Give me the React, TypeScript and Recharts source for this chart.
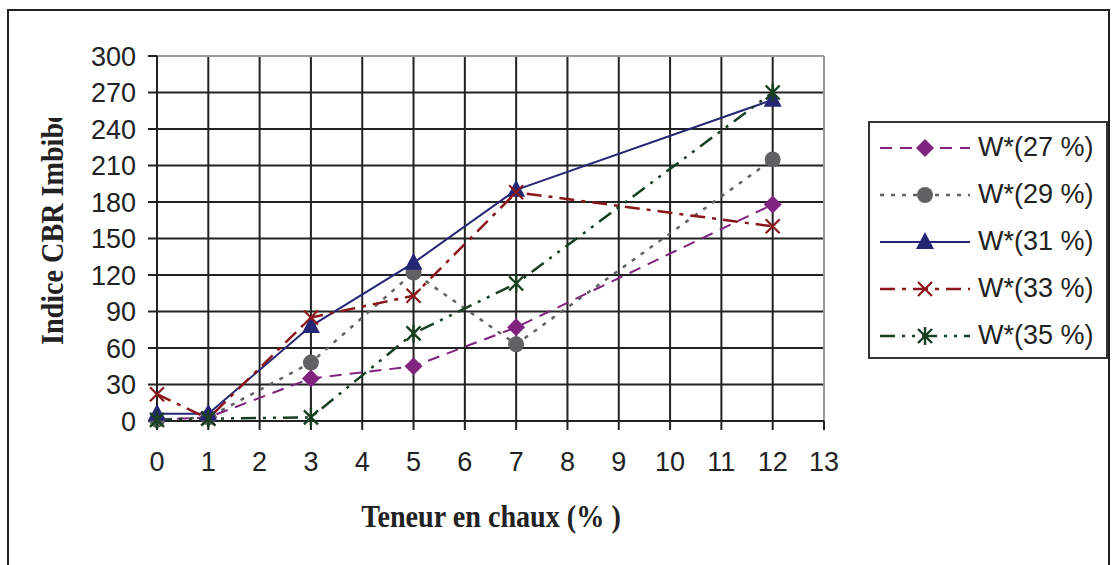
import React from "react";
import {
  LineChart,
  Line,
  XAxis,
  YAxis,
  CartesianGrid,
  ReferenceLine,
  Label,
} from "recharts";

// lime content (%) and CBR index per moisture series
const teneur = [0, 1, 3, 5, 7, 12];
const w27 = [1, 3, 35, 45, 77, 178];
const w29 = [1, 3, 48, 122, 63, 215];
const w31 = [6, 6, 78, 130, 190, 264];
const w33 = [22, 2, 85, 103, 188, 160];
const w35 = [1, 2, 3, 72, 113, 270];
const xTicks = [0, 1, 2, 3, 4, 5, 6, 7, 8, 9, 10, 11, 12, 13];
const yTicks = [0, 30, 60, 90, 120, 150, 180, 210, 240, 270, 300];

const data = teneur.map((x, i) => ({
  x,
  w27: w27[i],
  w29: w29[i],
  w31: w31[i],
  w33: w33[i],
  w35: w35[i],
}));

const PURPLE = "#80247f";
const GRAY = "#606163";
const NAVY = "#262676";
const RED = "#8a1719";
const GREEN = "#173f22";

type Marker = (cx: number, cy: number) => React.ReactNode;

const diamond: Marker = (cx, cy) => (
  <path d={`M${cx} ${cy - 9}L${cx + 9} ${cy}L${cx} ${cy + 9}L${cx - 9} ${cy}Z`} fill={PURPLE} />
);
const circle: Marker = (cx, cy) => <circle cx={cx} cy={cy} r={8} fill={GRAY} />;
const triangle: Marker = (cx, cy) => (
  <path d={`M${cx} ${cy - 10}L${cx + 9} ${cy + 7}L${cx - 9} ${cy + 7}Z`} fill={NAVY} />
);
const cross: Marker = (cx, cy) => (
  <path d={`M${cx - 7} ${cy - 7}L${cx + 7} ${cy + 7}M${cx + 7} ${cy - 7}L${cx - 7} ${cy + 7}`} stroke={RED} strokeWidth={2.2} />
);
const star: Marker = (cx, cy) => (
  <path
    d={`M${cx - 7} ${cy - 7}L${cx + 7} ${cy + 7}M${cx + 7} ${cy - 7}L${cx - 7} ${cy + 7}M${cx} ${cy - 9}L${cx} ${cy + 9}`}
    stroke={GREEN}
    strokeWidth={2.4}
  />
);

const series = [
  { key: "w27", label: "W*(27 %)", color: PURPLE, dash: "12 8", width: 2, marker: diamond },
  { key: "w29", label: "W*(29 %)", color: GRAY, dash: "4 7", width: 2.5, marker: circle },
  { key: "w31", label: "W*(31 %)", color: NAVY, dash: undefined, width: 2, marker: triangle },
  { key: "w33", label: "W*(33 %)", color: RED, dash: "15 7 4 7", width: 2.5, marker: cross },
  { key: "w35", label: "W*(35 %)", color: GREEN, dash: "15 7 3 7 3 7", width: 2.5, marker: star },
];

const tickFont = { fontSize: 27, fill: "#222", fontFamily: "Liberation Sans, Arial, sans-serif" };
const titleFont = {
  fontFamily: "Liberation Serif, Times New Roman, serif",
  fontWeight: "bold" as const,
  fontSize: 32,
  fill: "#222",
};

function LegendBox() {
  return (
    <div
      style={{
        position: "absolute",
        left: 868,
        top: 121,
        width: 240,
        height: 238,
        border: "2px solid #333",
        background: "#fff",
        boxSizing: "border-box",
        paddingTop: 1,
      }}
    >
      {series.map((s) => (
        <div key={s.key} style={{ display: "flex", alignItems: "center", height: 47 }}>
          <svg width={108} height={30} style={{ flex: "none" }}>
            <line x1={10} y1={15} x2={100} y2={15} stroke={s.color} strokeWidth={s.width} strokeDasharray={s.dash} />
            {s.marker(55, 15)}
          </svg>
          <span style={{ fontFamily: "Liberation Sans, Arial, sans-serif", fontSize: 27, color: "#222", whiteSpace: "nowrap" }}>
            {s.label}
          </span>
        </div>
      ))}
    </div>
  );
}

// rotated title, cut off at the top like the original frame
function YTitle() {
  return (
    <g>
      <defs>
        <clipPath id="ytitle-clip">
          <rect x={20} y={118} width={60} height={260} />
        </clipPath>
      </defs>
      <g clipPath="url(#ytitle-clip)">
        <text transform="translate(63, 345) rotate(-90) scale(0.88, 1)" textAnchor="start" {...titleFont}>
          Indice CBR Imbibé
        </text>
      </g>
    </g>
  );
}

function XTitle() {
  return (
    <text transform="translate(491, 527) scale(0.88, 1)" textAnchor="middle" {...titleFont}>
      Teneur en chaux (% )
    </text>
  );
}

export default function App() {
  return (
    <div style={{ position: "absolute", left: 0, top: 0, width: 1117, height: 565, background: "#fff", overflow: "hidden" }}>
      <div
        style={{
          position: "absolute",
          left: 7,
          top: 9,
          width: 1103,
          height: 600,
          border: "2px solid #222",
          boxSizing: "border-box",
        }}
      />
      <div style={{ position: "absolute", left: 0, top: 0 }}>
        <LineChart width={1117} height={565} data={data} margin={{ top: 56, right: 293, bottom: 84, left: 0 }}>
          <CartesianGrid stroke="#222" strokeWidth={2} horizontalValues={yTicks} verticalValues={xTicks} />
          <ReferenceLine y={300} stroke="#9a9a9a" strokeWidth={2} />
          <ReferenceLine x={13} stroke="#9a9a9a" strokeWidth={2} />
          <XAxis
            type="number"
            dataKey="x"
            domain={[0, 13]}
            ticks={xTicks}
            interval={0}
            height={60}
            tick={tickFont}
            tickSize={9}
            tickMargin={22}
            axisLine={{ stroke: "#222", strokeWidth: 2 }}
            tickLine={{ stroke: "#222", strokeWidth: 2 }}
          >
            <Label value="Teneur en chaux (% )" content={() => <XTitle />} />
          </XAxis>
          <YAxis
            type="number"
            domain={[0, 300]}
            ticks={yTicks}
            interval={0}
            width={157}
            tick={tickFont}
            tickSize={9}
            tickMargin={12}
            axisLine={{ stroke: "#222", strokeWidth: 2 }}
            tickLine={{ stroke: "#222", strokeWidth: 2 }}
          >
            <Label value="Indice CBR Imbibé" content={() => <YTitle />} />
          </YAxis>
          {series.map((s) => (
            <Line
              key={s.key}
              type="linear"
              dataKey={s.key}
              name={s.label}
              stroke={s.color}
              strokeWidth={s.width}
              strokeDasharray={s.dash}
              isAnimationActive={false}
              dot={(p: any) => <g key={`${s.key}-${p.index}`}>{s.marker(p.cx, p.cy)}</g>}
              activeDot={false}
            />
          ))}
        </LineChart>
      </div>
      <LegendBox />
    </div>
  );
}
